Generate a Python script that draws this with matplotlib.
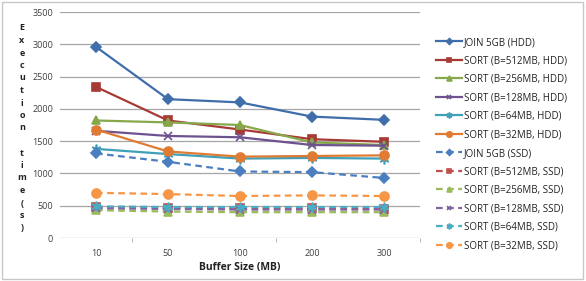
import matplotlib
matplotlib.use("Agg")
import matplotlib.pyplot as plt
from matplotlib.patches import Rectangle

plt.rcParams['font.family'] = ['Open Sans', 'DejaVu Sans']

categories = ["10", "50", "100", "200", "300"]
series_names = [
    "JOIN 5GB (HDD)", "SORT (B=512MB, HDD)", "SORT (B=256MB, HDD)",
    "SORT (B=128MB, HDD)", "SORT (B=64MB, HDD)", "SORT (B=32MB, HDD)",
    "JOIN 5GB (SSD)", "SORT (B=512MB, SSD)", "SORT (B=256MB, SSD)",
    "SORT (B=128MB, SSD)", "SORT (B=64MB, SSD)", "SORT (B=32MB, SSD)",
]
join_hdd = [2960, 2150, 2100, 1880, 1830]
sort512_hdd = [2340, 1820, 1680, 1530, 1490]
sort256_hdd = [1820, 1790, 1750, 1480, 1440]
sort128_hdd = [1660, 1580, 1560, 1440, 1430]
sort64_hdd = [1380, 1300, 1230, 1240, 1230]
sort32_hdd = [1680, 1340, 1260, 1270, 1280]
join_ssd = [1310, 1180, 1030, 1020, 930]
sort512_ssd = [480, 470, 460, 460, 450]
sort256_ssd = [430, 410, 400, 400, 400]
sort128_ssd = [460, 450, 440, 440, 440]
sort64_ssd = [490, 480, 480, 480, 480]
sort32_ssd = [700, 680, 650, 660, 650]

values = [join_hdd, sort512_hdd, sort256_hdd, sort128_hdd, sort64_hdd, sort32_hdd,
          join_ssd, sort512_ssd, sort256_ssd, sort128_ssd, sort64_ssd, sort32_ssd]

hdd_colors = ["#3F6EAA", "#A83A36", "#86A84A", "#6E5290", "#3FA0B8", "#E07B33"]
ssd_colors = ["#4A7EC0", "#C0504D", "#9BBB59", "#8064A2", "#4BACC6", "#F79646"]
markers = ["D", "s", "^", "x", (6, 2, 0), "o"]
msizes = [5, 6, 6, 6, 7, 6.5]

fig = plt.figure(figsize=(5.86, 2.81), dpi=100)
ax = fig.add_axes([60 / 586, 1 - 238 / 281, 360 / 586, 226 / 281])

x = list(range(len(categories)))
handles = []
for i, (name, vals) in enumerate(zip(series_names, values)):
    k = i % 6
    ssd = i >= 6
    color = ssd_colors[k] if ssd else hdd_colors[k]
    h, = ax.plot(x, vals, color=color, lw=1.6, ls=(0, (3, 2)) if ssd else "-",
                 marker=markers[k], markersize=msizes[k], markerfacecolor=color,
                 markeredgecolor=color, markeredgewidth=1.2, label=name, zorder=3)
    handles.append(h)

ax.set_xlim(-0.5, 4.5)
ax.set_ylim(0, 3500)
ax.set_yticks(range(0, 3501, 500))
ax.set_xticks(x)
ax.set_xticklabels(categories)
ax.set_xticks([0.5, 2.5, 4.5], minor=True)
ax.tick_params(axis="x", which="major", length=0, labelsize=6.5, colors="#404040", pad=8)
ax.tick_params(axis="x", which="minor", length=3, color="#BBBBBB", width=0.8)
ax.tick_params(axis="y", length=0, labelsize=6.5, colors="#404040", pad=5)
ax.grid(axis="y", color="#A6A6A6", lw=0.9)
ax.set_axisbelow(True)
for s in ax.spines.values():
    s.set_visible(False)

ax.set_xlabel("Buffer Size (MB)", fontsize=7.5, fontweight="bold", color="#222222", labelpad=3)

ylab = "\n".join(list("Execution")) + "\n\n" + "\n".join(list("time")) + "\n(\ns\n)"
fig.text(22 / 586, 1 - 128 / 281, ylab, ha="center", va="center", fontsize=6.5,
         fontweight="bold", color="#222222", linespacing=1.5)

leg = fig.legend(handles=handles, loc="upper left", bbox_to_anchor=(432 / 586, 1 - 33 / 281),
                 frameon=False, fontsize=7, handlelength=2.7, handletextpad=0.2,
                 labelspacing=0.77, borderaxespad=0, markerscale=0.6)
for t in leg.get_texts():
    t.set_color("#222222")

fig.patches.append(Rectangle((2 / 586, 2 / 281), 581 / 586, 277 / 281, transform=fig.transFigure,
                             fill=False, edgecolor="#C8C8C8", lw=1))

fig.savefig("out.png", dpi=100)
